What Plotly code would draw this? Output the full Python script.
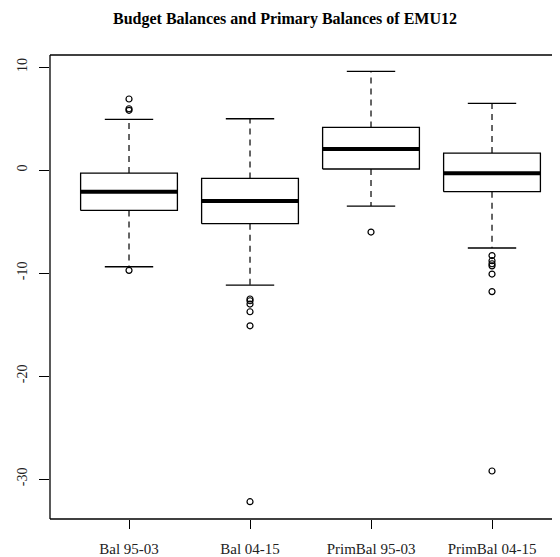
import plotly.graph_objects as go

categories = ["Bal 95-03", "Bal 04-15", "PrimBal 95-03", "PrimBal 04-15"]
q1 = [-3.92, -5.21, 0.10, -2.10]
median = [-2.10, -3.01, 2.04, -0.32]
q3 = [-0.29, -0.81, 4.14, 1.65]
lower_whisker = [-9.39, -11.17, -3.50, -7.57]
upper_whisker = [4.92, 4.98, 9.58, 6.47]
outliers = [
    [6.90, 5.95, 5.80, -9.74],
    [-12.52, -12.69, -13.01, -13.76, -15.12, -32.20],
    [-6.02],
    [-8.30, -8.80, -9.10, -9.30, -10.10, -11.80, -29.22],
]
y_ticks = [-30, -20, -10, 0, 10]

BOX_HALF = 0.4
STAPLE_HALF = 0.2
SERIF = "Liberation Serif, Times New Roman, serif"

# the page body has an 8px margin; the figure is sized so it fills the window
W, H = 552, 549

fig = go.Figure()
for i, name in enumerate(categories):
    x = i + 1
    fig.add_trace(go.Scatter(x=[x, x, None, x, x],
                             y=[q3[i], upper_whisker[i], None, q1[i], lower_whisker[i]],
                             mode="lines", line=dict(color="black", width=1.2, dash="6px,5px"),
                             hoverinfo="skip", showlegend=False))
    fig.add_trace(go.Scatter(x=[x - STAPLE_HALF, x + STAPLE_HALF, None, x - STAPLE_HALF, x + STAPLE_HALF],
                             y=[upper_whisker[i], upper_whisker[i], None, lower_whisker[i], lower_whisker[i]],
                             mode="lines", line=dict(color="black", width=1.3),
                             hoverinfo="skip", showlegend=False))
    fig.add_trace(go.Scatter(x=[x - BOX_HALF, x + BOX_HALF, x + BOX_HALF, x - BOX_HALF, x - BOX_HALF],
                             y=[q1[i], q1[i], q3[i], q3[i], q1[i]],
                             mode="lines", line=dict(color="black", width=1.3),
                             fill="toself", fillcolor="white",
                             hoverinfo="skip", showlegend=False))
    fig.add_trace(go.Scatter(x=[x - BOX_HALF, x + BOX_HALF], y=[median[i], median[i]],
                             mode="lines", line=dict(color="black", width=4),
                             hoverinfo="skip", showlegend=False))
    fig.add_trace(go.Scatter(x=[x] * len(outliers[i]), y=outliers[i], mode="markers",
                             marker=dict(symbol="circle-open", size=6, color="black",
                                         line=dict(width=1.2, color="black")),
                             showlegend=False, name=name))

# plot frame (left, top, bottom; the right side lies beyond the window in the reference)
frame = dict(type="line", xref="paper", yref="paper", line=dict(color="black", width=1.3), layer="above")
shapes = [
    dict(frame, x0=0, x1=0, y0=0, y1=1),
    dict(frame, x0=0, x1=1.05, y0=1, y1=1),
    dict(frame, x0=0, x1=1.05, y0=0, y1=0),
]

fig.update_layout(
    width=W, height=H,
    margin=dict(l=42, r=0, t=47, b=38),
    paper_bgcolor="white", plot_bgcolor="white",
    shapes=shapes,
    title=dict(text="<b>Budget Balances and Primary Balances of EMU12</b>",
               x=277 / W, xanchor="center", y=1 - 10 / H, yanchor="middle",
               font=dict(family=SERIF, size=16, color="black")),
    font=dict(family=SERIF, color="black"),
)
fig.update_xaxes(range=[0.347, 0.347 + (W - 42) / 121], tickmode="array", tickvals=[1, 2, 3, 4],
                 ticktext=categories,
                 showgrid=False, zeroline=False, showline=False,
                 ticks="outside", ticklen=9, tickwidth=1.2, tickcolor="black",
                 tickfont=dict(family=SERIF, size=15, color="#222"), ticklabelstandoff=7)
fig.update_yaxes(range=[-33.88, 11.17], tickmode="array", tickvals=y_ticks,
                 ticktext=[str(v) for v in y_ticks],
                 showgrid=False, zeroline=False, showline=False,
                 ticks="outside", ticklen=10, tickwidth=1.2, tickcolor="black", tickangle=-90,
                 tickfont=dict(family=SERIF, size=14, color="#222"), ticklabelstandoff=6)

fig.write_html("out.html")
